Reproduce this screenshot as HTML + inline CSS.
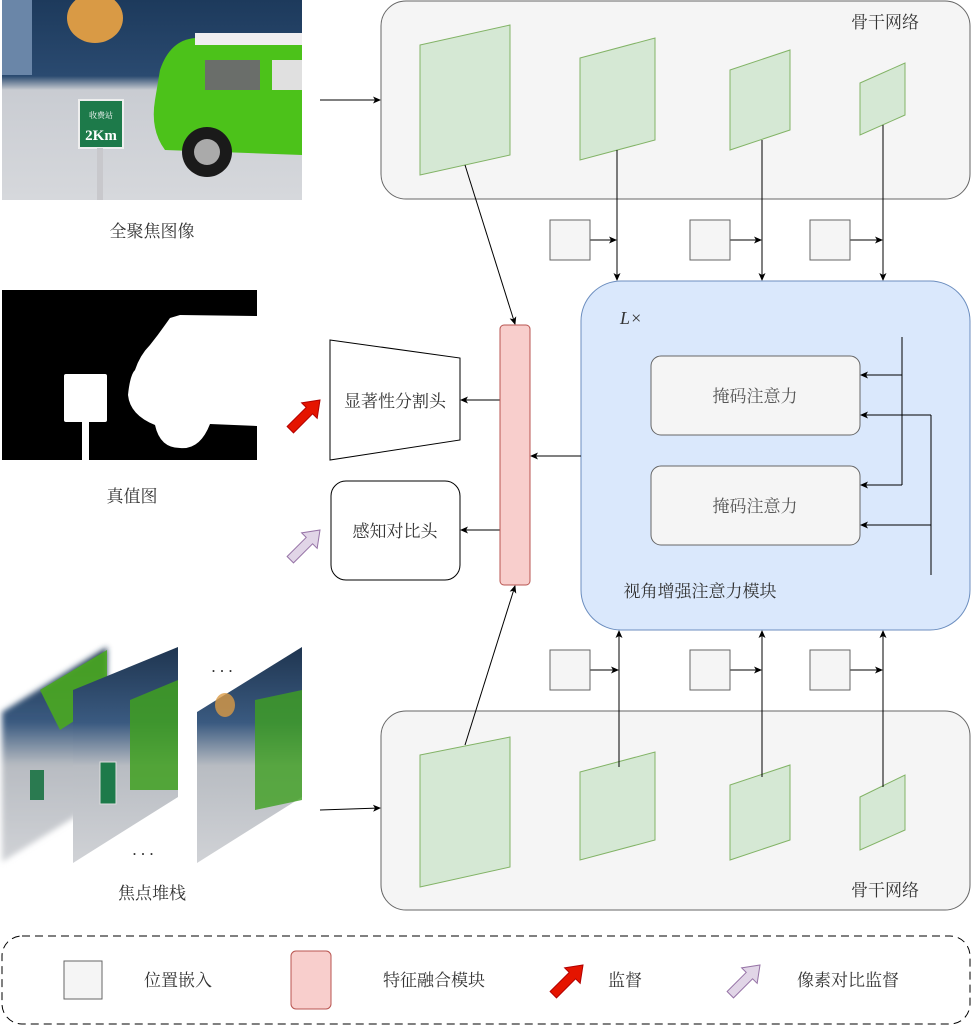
<!DOCTYPE html>
<html><head><meta charset="utf-8"><style>
html,body{margin:0;padding:0;background:#fff;width:972px;height:1026px;overflow:hidden}
text{font-family:"Liberation Serif","Noto Serif CJK SC",serif;font-size:17px;fill:#333}
</style></head><body>
<svg width="972" height="1026" viewBox="0 0 972 1026" xmlns="http://www.w3.org/2000/svg">
<defs>
<marker id="ar" markerWidth="8" markerHeight="8" refX="7" refY="4" orient="auto" markerUnits="userSpaceOnUse"><path d="M0,0.5 L8,4 L0,7.5 L2,4 Z" fill="#000"/></marker>
<linearGradient id="bg1" x1="0" y1="0" x2="0" y2="1"><stop offset="0" stop-color="#1d3a5c"/><stop offset="0.38" stop-color="#2a4a70"/><stop offset="0.45" stop-color="#c9ccd2"/><stop offset="1" stop-color="#d6d8dc"/></linearGradient>
<linearGradient id="bg2" x1="0" y1="0" x2="0" y2="1"><stop offset="0" stop-color="#1f3550"/><stop offset="0.35" stop-color="#3a5a80"/><stop offset="0.55" stop-color="#b8bcc2"/><stop offset="1" stop-color="#d0d2d6"/></linearGradient>
<filter id="bl"><feGaussianBlur stdDeviation="3"/></filter>
<g id="arrowR"><path d="M0,0 L-11,-15 L-4.5,-15 L-4.5,-42 L4.5,-42 L4.5,-15 L11,-15 Z"/></g>
</defs>

<!-- top photo -->
<rect x="2" y="0" width="300" height="200" fill="url(#bg1)"/>
<ellipse cx="95" cy="18" rx="28" ry="25" fill="#d99a45"/>
<rect x="2" y="0" width="30" height="75" fill="#6a86a8"/>
<path d="M160,70 Q170,40 195,38 L302,36 L302,155 L165,150 Q150,130 155,100 Z" fill="#4cc21a"/>
<rect x="195" y="33" width="107" height="12" fill="#f0eef0"/>
<rect x="205" y="60" width="55" height="30" fill="#6a6e6a"/>
<rect x="272" y="60" width="30" height="30" fill="#e0e0e0"/>
<circle cx="207" cy="152" r="25" fill="#1a1a1a"/><circle cx="207" cy="152" r="13" fill="#aaa"/>
<rect x="79" y="100" width="44" height="48" fill="#1d7a4a" stroke="#eee" stroke-width="2"/>
<rect x="97" y="148" width="6" height="52" fill="#c8c8cc"/>
<text x="101" y="118" style="font-size:8px;fill:#fff" text-anchor="middle">收费站</text>
<text x="101" y="140" style="font-size:15px;fill:#fff;font-weight:bold" text-anchor="middle">2Km</text>
<text x="152" y="237" text-anchor="middle">全聚焦图像</text>

<!-- mask -->
<rect x="2" y="290" width="255" height="170" fill="#000"/>
<rect x="64" y="374" width="43" height="48" rx="2" fill="#fff"/>
<rect x="82" y="420" width="7" height="40" fill="#fff"/>
<path d="M170,318 L180,315 L257,316 L257,426 L210,424 Q200,450 180,448 Q160,448 155,425 Q130,415 128,395 Q130,375 135,370 Q140,355 150,345 Q158,335 165,325 Z" fill="#fff"/>
<text x="132" y="502" text-anchor="middle">真值图</text>

<!-- focal stack -->
<g filter="url(#bl)">
<polygon points="2,712 107,647 107,797 2,862" fill="url(#bg2)"/>
</g>
<polygon points="40,690 107,650 107,700 60,730" fill="#4aa820" opacity="0.9"/>
<rect x="30" y="770" width="14" height="30" fill="#2a7a50"/>
<g>
<polygon points="73,690 178,647 178,797 73,863" fill="url(#bg2)"/>
<polygon points="130,700 178,680 178,790 130,790" fill="#3fa020" opacity="0.85"/>
<rect x="100" y="762" width="16" height="42" fill="#1d7a4a" stroke="#ddd"/>
</g>
<g>
<polygon points="197,712 302,647 302,797 197,863" fill="url(#bg2)"/>
<polygon points="255,700 302,690 302,800 255,810" fill="#3fa020" opacity="0.8"/>
<ellipse cx="225" cy="705" rx="10" ry="12" fill="#d99a45" opacity="0.8"/>
</g>
<text x="222" y="672" text-anchor="middle">. . .</text>
<text x="143" y="855" text-anchor="middle">. . .</text>
<text x="152" y="899" text-anchor="middle">焦点堆栈</text>

<!-- backbones -->
<rect x="381" y="1" width="589" height="198" rx="25" fill="#f5f5f5" stroke="#666"/>
<text x="885" y="28" text-anchor="middle">骨干网络</text>
<g fill="#d5e8d4" stroke="#82b366">
<polygon points="420,45 510,25 510,155 420,175"/>
<polygon points="580,58 655,38 655,140 580,160"/>
<polygon points="730,70 790,50 790,130 730,150"/>
<polygon points="860,83 905,63 905,115 860,135"/>
</g>
<rect x="381" y="711" width="589" height="199" rx="25" fill="#f5f5f5" stroke="#666"/>
<text x="885" y="896" text-anchor="middle">骨干网络</text>
<g fill="#d5e8d4" stroke="#82b366">
<polygon points="420,755 510,737 510,867 420,887"/>
<polygon points="580,772 655,752 655,840 580,860"/>
<polygon points="730,785 790,765 790,840 730,860"/>
<polygon points="860,797 905,775 905,830 860,850"/>
</g>

<g stroke="#000" fill="none" marker-end="url(#ar)">
<line x1="320" y1="100" x2="380" y2="100"/>
<line x1="320" y1="810" x2="380" y2="808"/>
<line x1="465" y1="165" x2="515" y2="324"/>
<line x1="465" y1="745" x2="515" y2="586"/>
<line x1="617" y1="150" x2="617" y2="280"/>
<line x1="762" y1="140" x2="762" y2="280"/>
<line x1="883" y1="125" x2="883" y2="280"/>
<line x1="590" y1="240" x2="616" y2="240"/>
<line x1="730" y1="240" x2="761" y2="240"/>
<line x1="850" y1="240" x2="882" y2="240"/>
<line x1="619" y1="767" x2="619" y2="631"/>
<line x1="762" y1="777" x2="762" y2="631"/>
<line x1="883" y1="787" x2="883" y2="631"/>
<line x1="590" y1="670" x2="618" y2="670"/>
<line x1="730" y1="670" x2="761" y2="670"/>
<line x1="850" y1="670" x2="882" y2="670"/>
</g>
<g fill="#f5f5f5" stroke="#666">
<rect x="550" y="220" width="40" height="40"/><rect x="690" y="220" width="40" height="40"/><rect x="810" y="220" width="40" height="40"/>
<rect x="550" y="650" width="40" height="40"/><rect x="690" y="650" width="40" height="40"/><rect x="810" y="650" width="40" height="40"/>
</g>

<!-- blue module -->
<rect x="581" y="281" width="389" height="349" rx="40" fill="#dae8fc" stroke="#6c8ebf"/>
<text x="620" y="324" style="font-style:italic;font-size:18px">L×</text>
<rect x="651" y="356" width="209" height="79" rx="10" fill="#f5f5f5" stroke="#666"/>
<text x="755" y="402" text-anchor="middle" style="fill:#555">掩码注意力</text>
<rect x="651" y="466" width="209" height="79" rx="10" fill="#f5f5f5" stroke="#666"/>
<text x="755" y="512" text-anchor="middle" style="fill:#555">掩码注意力</text>
<g stroke="#000" fill="none">
<line x1="902" y1="337" x2="902" y2="485"/>
<line x1="931" y1="415" x2="931" y2="575"/>
<g marker-end="url(#ar)">
<line x1="902" y1="375" x2="861" y2="375"/>
<line x1="902" y1="485" x2="861" y2="485"/>
<line x1="931" y1="415" x2="861" y2="415"/>
<line x1="931" y1="525" x2="861" y2="525"/>
<line x1="581" y1="456" x2="531" y2="456"/>
<line x1="500" y1="400" x2="461" y2="400"/>
<line x1="500" y1="530" x2="461" y2="530"/>
</g>
</g>
<text x="700" y="597" text-anchor="middle">视角增强注意力模块</text>

<!-- fusion -->
<rect x="500" y="325" width="30" height="260" rx="4" fill="#f8cecc" stroke="#b85450"/>

<!-- heads -->
<polygon points="330,340 460,358 460,440 330,460" fill="#fff" stroke="#000"/>
<text x="395" y="407" text-anchor="middle">显著性分割头</text>
<rect x="331" y="481" width="129" height="99" rx="15" fill="#fff" stroke="#000"/>
<text x="395" y="537" text-anchor="middle">感知对比头</text>

<use href="#arrowR" transform="translate(320,400) rotate(225)" fill="#e51400" stroke="#b20000"/>
<use href="#arrowR" transform="translate(320,530) rotate(225)" fill="#e1d5e7" stroke="#9673a6"/>

<!-- legend -->
<rect x="2" y="936" width="968" height="88" rx="20" fill="#fff" stroke="#000" stroke-dasharray="8,5"/>
<rect x="64" y="961" width="38" height="38" fill="#f5f5f5" stroke="#666"/>
<text x="178" y="986" text-anchor="middle">位置嵌入</text>
<rect x="291" y="951" width="40" height="58" rx="5" fill="#f8cecc" stroke="#b85450"/>
<text x="434" y="986" text-anchor="middle">特征融合模块</text>
<use href="#arrowR" transform="translate(583,965) rotate(225)" fill="#e51400" stroke="#b20000"/>
<text x="625" y="986" text-anchor="middle">监督</text>
<use href="#arrowR" transform="translate(760,965) rotate(225)" fill="#e1d5e7" stroke="#9673a6"/>
<text x="848" y="986" text-anchor="middle">像素对比监督</text>
</svg>
</body></html>
